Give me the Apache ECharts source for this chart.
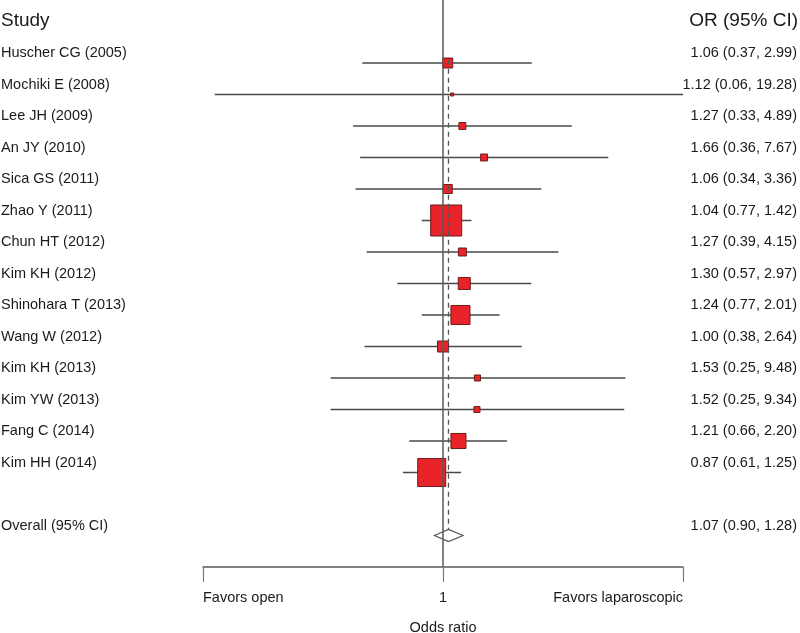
<!DOCTYPE html>
<html><head><meta charset="utf-8">
<script src="https://cdn.jsdelivr.net/npm/echarts@6/dist/echarts.min.js"></script>
<style>html,body{margin:0;padding:0;background:#fff}#c{width:800px;height:633px}</style>
</head><body><div id="c"></div>
<script>
// ---- data ----
const studies = ['Huscher CG (2005)','Mochiki E (2008)','Lee JH (2009)','An JY (2010)','Sica GS (2011)','Zhao Y (2011)','Chun HT (2012)','Kim KH (2012)','Shinohara T (2013)','Wang W (2012)','Kim KH (2013)','Kim YW (2013)','Fang C (2014)','Kim HH (2014)'];
const oddsRatios = [1.06,1.12,1.27,1.66,1.06,1.04,1.27,1.30,1.24,1.00,1.53,1.52,1.21,0.87];
const ciLower = [0.37,0.06,0.33,0.36,0.34,0.77,0.39,0.57,0.77,0.38,0.25,0.25,0.66,0.61];
const ciUpper = [2.99,19.28,4.89,7.67,3.36,1.42,4.15,2.97,2.01,2.64,9.48,9.34,2.20,1.25];
const weights = [3.3,0.3,1.6,1.6,2.7,31.8,2.1,4.8,12.0,4.0,1.2,1.2,7.5,26.0];
const overallLabel = 'Overall (95% CI)';
const overallValues = [1.07, 0.90, 1.28]; // OR, lower, upper
const headers = ['Study', 'OR (95% CI)'];
const axisTickLabels = ['Favors open', '1', 'Favors laparoscopic'];
const axisTitle = 'Odds ratio';

// ---- chart ----
const FONT = 'Liberation Sans, Arial, Helvetica, sans-serif';
const TXT = '#1a1a1a';
const fmt = (o,l,h) => o.toFixed(2) + ' (' + l.toFixed(2) + ', ' + h.toFixed(2) + ')';
const xMax = Math.max(...ciUpper);
const overallRow = studies.length + 1;

const studyData = studies.map((s,i) => [oddsRatios[i], i, ciLower[i], ciUpper[i], weights[i]]);
const textData = studies.map((s,i) => ({value:[oddsRatios[i], i], name:s, ci:fmt(oddsRatios[i],ciLower[i],ciUpper[i])}));
textData.push({value:[overallValues[0], overallRow], name:overallLabel, ci:fmt(overallValues[0],overallValues[1],overallValues[2])});

const chart = echarts.init(document.getElementById('c'), null, {renderer:'canvas'});
chart.setOption({
  animation:false,
  backgroundColor:'#fff',
  grid:{left:203, right:117, top:0, bottom:66, containLabel:false, outerBoundsMode:'none'},
  xAxis:{
    type:'log', logBase:xMax, min:1/xMax, max:xMax, interval:1,
    axisLine:{show:true, onZero:false, lineStyle:{color:'#5a5a5a', width:1.5}},
    axisTick:{show:true, length:15, lineStyle:{color:'#7a7a7a', width:1.2}},
    splitLine:{show:false},
    axisLabel:{
      show:true, margin:23, fontSize:14.5, fontFamily:FONT, color:TXT,
      showMinLabel:true, showMaxLabel:true,
      alignMinLabel:'left', alignMaxLabel:'right',
      formatter:v => v < 0.999 ? axisTickLabels[0] : (v > 1.001 ? axisTickLabels[2] : axisTickLabels[1])
    },
    name:axisTitle, nameLocation:'middle', nameGap:53,
    nameTextStyle:{fontSize:14.5, fontFamily:FONT, color:TXT}
  },
  yAxis:{type:'value', min:-2, max:16, inverse:true, show:false},
  graphic:[
    {type:'text', x:1, y:21, style:{text:headers[0], fontSize:19, fontFamily:FONT, fill:TXT, verticalAlign:'middle', align:'left'}},
    {type:'text', x:798, y:21, style:{text:headers[1], fontSize:19, fontFamily:FONT, fill:TXT, verticalAlign:'middle', align:'right'}}
  ],
  series:[
    { // null line at OR = 1
      type:'line', data:[], z:1,
      markLine:{silent:true, symbol:'none', label:{show:false},
        lineStyle:{type:'solid', color:'#5a5a5a', width:1.5},
        data:[{xAxis:1}]}
    },
    { // CIs and weighted squares
      type:'custom', z:2, clip:false, data:studyData,
      renderItem:(params, api) => {
        const o = api.value(0), i = api.value(1), lo = api.value(2), hi = api.value(3), w = api.value(4);
        const pL = api.coord([lo, i]), pH = api.coord([hi, i]), pC = api.coord([o, i]);
        const s = Math.max(3, Math.sqrt(w) * 5.5);
        return {type:'group', children:[
          {type:'line', shape:{x1:pL[0], y1:pL[1], x2:pH[0], y2:pH[1]}, style:{stroke:'#4a4a4a', lineWidth:1.4}},
          {type:'rect', shape:{x:pC[0]-s/2, y:pC[1]-s/2, width:s, height:s}, style:{fill:'#e8232a', stroke:'#6e1c1c', lineWidth:1}}
        ]};
      }
    },
    { // overall estimate dashed line
      type:'line', z:3, symbol:'none', silent:true,
      data:[[overallValues[0], -0.1], [overallValues[0], overallRow - 0.2]],
      lineStyle:{type:[5,4], color:'#555', width:1.3}
    },
    { // overall diamond
      type:'custom', z:4, clip:false, data:[[overallValues[0], overallRow, overallValues[1], overallValues[2]]],
      renderItem:(params, api) => {
        const o = api.value(0), r = api.value(1);
        const pL = api.coord([api.value(2), r]), pH = api.coord([api.value(3), r]), pC = api.coord([o, r]);
        const h = 6;
        return {type:'polygon', shape:{points:[[pL[0],pL[1]],[pC[0],pC[1]-h],[pH[0],pH[1]],[pC[0],pC[1]+h]]},
          style:{fill:'#fff', stroke:'#555', lineWidth:1.2}};
      }
    },
    { // row texts
      type:'custom', z:5, clip:false, data:textData,
      renderItem:(params, api) => {
        const d = textData[params.dataIndex];
        const p = api.coord([api.value(0), api.value(1)]);
        const y = p[1] - 10;
        return {type:'group', children:[
          {type:'text', x:1, y:y, style:{text:d.name, fontSize:14.5, fontFamily:FONT, fill:TXT, align:'left', verticalAlign:'middle'}},
          {type:'text', x:797, y:y, style:{text:d.ci, fontSize:14.5, fontFamily:FONT, fill:TXT, align:'right', verticalAlign:'middle'}}
        ]};
      }
    }
  ]
});
</script></body></html>
